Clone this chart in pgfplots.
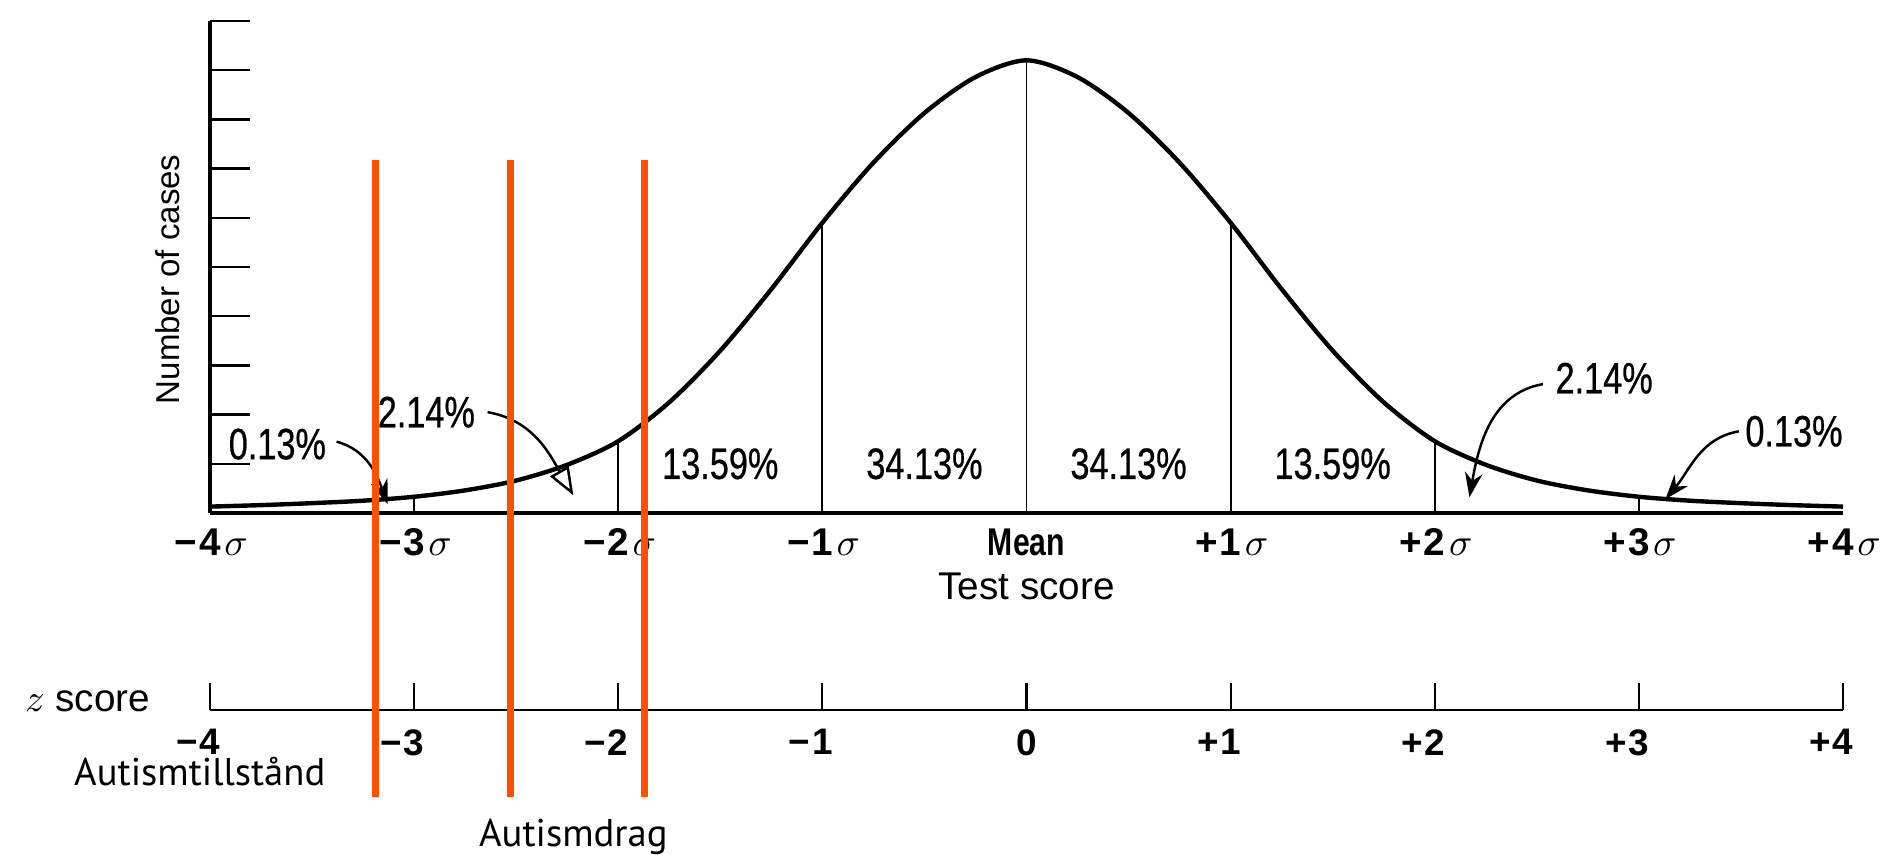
\documentclass[border=0pt]{standalone}
\usepackage{fontspec}
\setmainfont{Liberation Sans}
\newfontfamily\condfont[FakeStretch=0.78]{Liberation Sans}
\newfontfamily\pctfont[FakeStretch=0.78,FakeBold=0.6]{Liberation Sans}
\newfontfamily\ptsans{PT Sans}
\usepackage{pgfplots}
\pgfplotsset{compat=1.18}
\usetikzlibrary{arrows.meta}
\definecolor{autism}{HTML}{FF5000}

\newcommand{\pct}[1]{{\pctfont\fontsize{12.5}{14}\selectfont #1}}
% digit centred on its tick, sign to the left, sigma to the right
\newcommand{\sg}[2]{{\bfseries\llap{#1\kern0.5pt}#2}\rlap{\kern1pt$\sigma$}}
\newcommand{\zl}[2]{\llap{#1\kern0.5pt}#2}

\begin{document}
\begin{tikzpicture}
\path[use as bounding box] (0,0) rectangle (18.86,8.55);

% z score scale (drawn first so the orange lines lie on top)
\begin{axis}[
    at={(2.10cm,1.45cm)}, anchor=south west,
    scale only axis, width=16.33cm, height=0.27cm,
    xmin=-4, xmax=4, ymin=0, ymax=1,
    axis x line=bottom, axis y line=none,
    axis line style={-, line width=0.8pt},
    xtick={-4,...,4},
    xticklabels={\zl{−}{4},\zl{−}{3},\zl{−}{2},\zl{−}{1},0,\zl{+}{1},\zl{+}{2},\zl{+}{3},\zl{+}{4}},
    major tick length=0.27cm, tick align=inside,
    tick style={line width=0.6pt, black},
    xticklabel style={font=\bfseries\fontsize{10.5}{12}\selectfont, yshift=-2pt},
    clip=false,
]
\node[font=\fontsize{11}{13}\selectfont] at (axis description cs:-0.075,0.33) {$z$ score};
\end{axis}

% normal curve
\begin{axis}[
    at={(2.10cm,3.42cm)}, anchor=south west,
    scale only axis, width=16.33cm, height=4.92cm,
    xmin=-4, xmax=4, ymin=0, ymax=10,
    axis x line=bottom, axis y line=left,
    axis line style={-, line width=0.9pt},
    xtick={-4,...,4},
    xticklabels={\sg{−}{4},\sg{−}{3},\sg{−}{2},\sg{−}{1},{\condfont\bfseries Mean},\sg{+}{1},\sg{+}{2},\sg{+}{3},\sg{+}{4}},
    x tick style={draw=none},
    xticklabel style={font=\fontsize{11}{13}\selectfont, yshift=-1pt},
    ytick={1,...,10}, yticklabels={},
    y tick style={line width=0.7pt, black},
    major tick length=0.4cm, tick align=inside,
    xlabel={Test score},
    xlabel style={at={(axis description cs:0.5,-0.15)}, anchor=center, font=\fontsize{11}{13}\selectfont},
    ylabel={Number of cases},
    ylabel style={at={(axis description cs:-0.0257,0.475)}, anchor=center, font=\fontsize{9.4}{11}\selectfont},
    clip=false,
]
% curve
\addplot[black, line width=1.25pt, smooth] coordinates {
    (-4.00,0.13) (-3.75,0.16) (-3.50,0.20) (-3.25,0.25) (-3.00,0.33)
    (-2.75,0.46) (-2.50,0.66) (-2.25,0.98) (-2.00,1.46) (-1.75,2.25)
    (-1.50,3.30) (-1.25,4.55) (-1.00,5.90) (-0.75,7.12) (-0.50,8.13)
    (-0.25,8.86) (0.00,9.20)
    (0.25,8.86) (0.50,8.13) (0.75,7.12) (1.00,5.90) (1.25,4.55)
    (1.50,3.30) (1.75,2.25) (2.00,1.46) (2.25,0.98) (2.50,0.66)
    (2.75,0.46) (3.00,0.33) (3.25,0.25) (3.50,0.20) (3.75,0.16)
    (4.00,0.13)
};
% sigma ordinates
\addplot[black, line width=0.5pt] coordinates {(-3,0) (-3,0.33)};
\addplot[black, line width=0.5pt] coordinates {(-2,0) (-2,1.46)};
\addplot[black, line width=0.5pt] coordinates {(-1,0) (-1,5.90)};
\addplot[black, line width=0.5pt] coordinates {(0,0) (0,9.20)};
\addplot[black, line width=0.5pt] coordinates {(1,0) (1,5.90)};
\addplot[black, line width=0.5pt] coordinates {(2,0) (2,1.46)};
\addplot[black, line width=0.5pt] coordinates {(3,0) (3,0.33)};

% area percentages
\node at (axis cs:-1.5,1.0) {\pct{13.59\%}};
\node at (axis cs:-0.5,1.0) {\pct{34.13\%}};
\node at (axis cs:0.5,1.0) {\pct{34.13\%}};
\node at (axis cs:1.5,1.0) {\pct{13.59\%}};
\node at (axis cs:-3.67,1.40) {\pct{0.13\%}};
\node at (axis cs:-2.94,2.05) {\pct{2.14\%}};
\node at (axis cs:2.83,2.74) {\pct{2.14\%}};
\node at (axis cs:3.76,1.66) {\pct{0.13\%}};
\draw[-{Stealth[length=7pt,width=5pt]}, line width=0.7pt] (axis cs:-3.38,1.45) to[out=-15,in=110] (axis cs:-3.13,0.18);
\draw[-{Triangle[open,length=8pt,width=6pt]}, line width=0.7pt] (axis cs:-2.64,2.05) to[out=-10,in=120] (axis cs:-2.22,0.36);
\draw[-{Stealth[length=7pt,width=5pt]}, line width=0.7pt] (axis cs:2.53,2.62) to[out=190,in=80] (axis cs:2.17,0.32);
\draw[-{Stealth[length=7pt,width=5pt]}, line width=0.7pt] (axis cs:3.49,1.66) to[out=190,in=50] (axis cs:3.13,0.28);

% autism thresholds
\addplot[autism, line width=2pt] coordinates {(-3.19,7.17) (-3.19,-5.77)};
\addplot[autism, line width=2pt] coordinates {(-2.53,7.17) (-2.53,-5.77)};
\addplot[autism, line width=2pt] coordinates {(-1.87,7.17) (-1.87,-5.77)};
\node[font=\ptsans\fontsize{11}{13}\selectfont] at (axis cs:-4.05,-5.25) {Autismtillstånd};
\node[font=\ptsans\fontsize{11}{13}\selectfont] at (axis cs:-2.22,-6.58) {Autismdrag};
\end{axis}
\end{tikzpicture}
\end{document}
